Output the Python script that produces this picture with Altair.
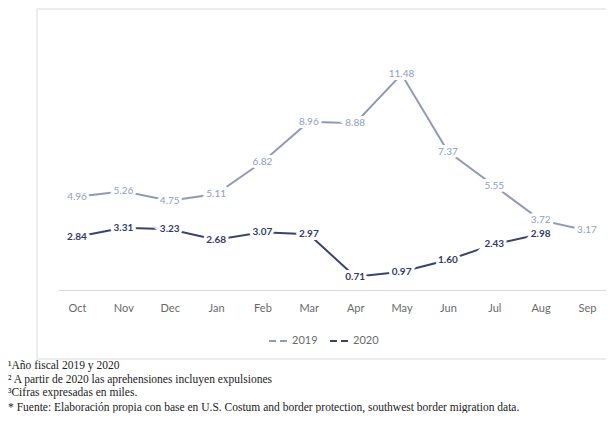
import altair as alt
import pandas as pd

months = ["Oct", "Nov", "Dec", "Jan", "Feb", "Mar", "Apr", "May", "Jun", "Jul", "Aug", "Sep"]
v2019 = [4.96, 5.26, 4.75, 5.11, 6.82, 8.96, 8.88, 11.48, 7.37, 5.55, 3.72, 3.17]
v2020 = [2.84, 3.31, 3.23, 2.68, 3.07, 2.97, 0.71, 0.97, 1.60, 2.43, 2.98, None]
years = ["2019", "2020"]

footnotes = [
    "¹Año fiscal 2019 y 2020",
    "² A partir de 2020 las aprehensiones incluyen expulsiones",
    "³Cifras expresadas en miles.",
    "* Fuente: Elaboración propia con base en U.S. Costum and border protection, southwest border migration data.",
]

rows = []
for m, a, b in zip(months, v2019, v2020):
    rows.append({"month": m, "year": years[0], "value": a})
    if b is not None:
        rows.append({"month": m, "year": years[1], "value": b})
df = pd.DataFrame(rows)

LIGHT_LINE = "#8f9abb"
DARK_LINE = "#38446f"
LIGHT_TXT = "#8e9dc8"
DARK_TXT = "#2f3c6a"
FONT = "Lato"

x = alt.X("month:O", sort=months, scale=alt.Scale(type="point", padding=0.41),
          axis=alt.Axis(title=None, labelAngle=0, labelColor="#6a6a6a", labelFontSize=11,
                        labelFont=FONT, domainColor="#d9d9d9", domainWidth=1, ticks=False,
                        labelPadding=12, grid=False))
y = alt.Y("value:Q", scale=alt.Scale(domain=[0, 14]), axis=None)

base = alt.Chart(df).encode(x=x, y=y)

lines = base.mark_line(strokeWidth=2).encode(
    color=alt.Color("year:N", scale=alt.Scale(domain=years, range=[LIGHT_LINE, DARK_LINE]),
                    legend=alt.Legend(orient="none", legendX=210, legendY=303, direction="horizontal",
                                      title=None, symbolType="stroke", symbolDash=[7, 4],
                                      symbolStrokeWidth=2, symbolSize=400, labelColor="#6a6a6a",
                                      labelFontSize=11, labelFont=FONT, columnPadding=8,
                                      labelOffset=2))
)

halo = base.mark_text(fontSize=10, font=FONT, fontWeight="bold", fill="white",
                      stroke="white", strokeWidth=6).encode(text=alt.Text("value:Q", format=".2f"))

lab19 = base.transform_filter(alt.datum.year == "2019").mark_text(
    fontSize=10, font=FONT, color=LIGHT_TXT).encode(text=alt.Text("value:Q", format=".2f"))
lab20 = base.transform_filter(alt.datum.year == "2020").mark_text(
    fontSize=10, font=FONT, fontWeight="bold", color=DARK_TXT).encode(text=alt.Text("value:Q", format=".2f"))

one = pd.DataFrame({"k": [0]})
box = alt.Chart(one).mark_rect(fillOpacity=0, stroke="#d9d9d9", strokeWidth=1).encode(
    x=alt.value(-21), x2=alt.value(640), y=alt.value(-18), y2=alt.value(332))

note_y = [339, 353, 366, 381]
notes = []
for t, yy in zip(footnotes, note_y):
    notes.append(alt.Chart(one).mark_text(align="left", baseline="middle", font="Liberation Serif",
                                          fontSize=11.5, color="#222222", text=t)
                 .encode(x=alt.value(-50), y=alt.value(yy)))

chart = alt.layer(box, lines, halo, lab19, lab20, *notes).properties(
    width=548, height=263,
    autosize=alt.AutoSizeParams(type="none"),
    padding={"left": 50, "top": 19, "right": 0, "bottom": 123},
).configure_view(stroke=None)

chart.save("out.html", embed_options={"renderer": "svg", "actions": False})
